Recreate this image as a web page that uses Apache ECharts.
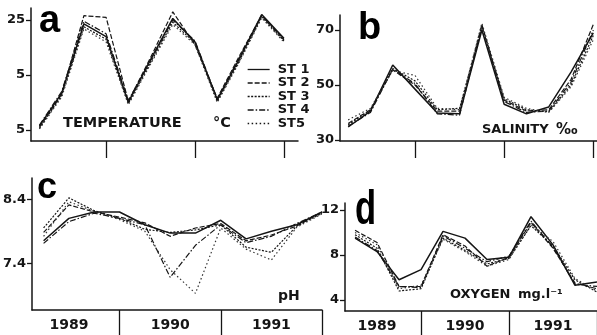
<!DOCTYPE html>
<html>
<head>
<meta charset="utf-8">
<script src="https://cdn.jsdelivr.net/npm/echarts@6/dist/echarts.min.js"></script>
<style>
  html, body { margin: 0; background: #fff; }
  #chart { width: 597px; height: 335px; }
</style>
</head>
<body>
<div id="chart"></div>
<script>
// sampling times, months since Jan 1989
const months = [3, 6, 9, 12, 15, 18, 21, 24, 27, 30, 33, 36];
const stations = ['ST 1', 'ST 2', 'ST 3', 'ST 4', 'ST5'];

// a - temperature (°C), one row per station
const temperature = [
  [5.7, 11.7, 24.3, 22.0, 10.0, 17.8, 25.3, 21.0, 10.5, 18.0, 26.0, 21.7],
  [5.5, 11.5, 25.8, 25.5, 10.2, 18.2, 26.5, 20.5, 10.8, 18.5, 25.9, 21.5],
  [5.3, 11.3, 23.8, 21.5, 9.8, 17.3, 24.6, 20.8, 10.2, 17.6, 25.6, 21.2],
  [5.9, 12.0, 24.8, 22.5, 10.4, 17.6, 25.0, 21.2, 10.6, 18.2, 25.8, 21.4],
  [5.2, 11.0, 23.4, 21.0, 9.6, 17.0, 24.2, 20.5, 10.0, 17.4, 25.4, 21.0]
];
// b - salinity (‰)
const salinity = [
  [34.7, 40.5, 57.3, 48.5, 39.8, 39.5, 70.0, 43.0, 39.5, 42.0, 54.7, 69.0],
  [36.0, 41.0, 55.5, 50.0, 40.5, 40.5, 72.0, 44.5, 40.5, 41.0, 52.0, 72.0],
  [35.5, 40.8, 56.0, 51.5, 41.0, 41.5, 71.0, 45.0, 41.0, 40.2, 50.0, 68.0],
  [35.0, 40.0, 55.8, 50.5, 39.5, 39.0, 71.5, 44.0, 40.0, 40.5, 51.0, 70.0],
  [37.3, 41.5, 55.3, 53.5, 41.5, 41.0, 72.5, 45.5, 41.5, 40.0, 49.3, 66.5]
];
// c - pH
const ph = [
  [7.75, 8.10, 8.20, 8.20, 8.00, 7.87, 7.87, 8.07, 7.78, 7.90, 8.00, 8.20],
  [7.88, 8.31, 8.20, 8.12, 8.03, 7.82, 7.95, 8.02, 7.75, 7.84, 7.98, 8.20],
  [7.95, 8.42, 8.22, 8.10, 7.93, 7.88, 7.92, 8.00, 7.65, 7.57, 7.98, 8.18],
  [7.71, 8.05, 8.18, 8.10, 8.00, 7.18, 7.68, 8.00, 7.72, 7.82, 8.02, 8.20],
  [7.82, 8.36, 8.21, 8.08, 7.90, 7.30, 6.93, 7.95, 7.62, 7.45, 7.96, 8.17]
];
// d - oxygen (mg/l)
const oxygen = [
  [9.5, 8.3, 5.8, 6.7, 10.1, 9.5, 7.6, 7.8, 11.4, 8.9, 5.3, 5.6],
  [10.2, 9.1, 5.2, 5.2, 9.8, 8.8, 7.0, 7.8, 10.9, 8.6, 5.5, 5.0],
  [9.8, 8.6, 4.8, 5.0, 9.5, 8.4, 7.2, 7.7, 10.6, 8.8, 5.8, 4.7],
  [9.6, 8.4, 5.2, 5.1, 9.7, 8.6, 7.4, 7.9, 11.0, 8.7, 5.4, 5.2],
  [10.0, 8.9, 5.0, 5.3, 9.4, 8.3, 7.0, 7.6, 10.7, 9.2, 5.9, 4.8]
];

// tick labels
const yearTicks = [12, 24, 36];
const yearLabelPos = [6, 18, 30];
const years = ['1989', '1990', '1991'];
const tempTicks = [5, 15, 25], tempLabels = ['5', '5', '25'];
const salTicks = [30, 50, 70], salLabels = ['30', '50', '70'];
const phTicks = [7.4, 8.4], phLabels = ['7.4', '8.4'];
const oxyTicks = [4, 8, 12], oxyLabels = ['4', '8', '12'];

const FONT = '"DejaVu Sans", sans-serif';
const INK = '#151515';

const dashes = ['solid', [5, 2], [2, 1.5], [6, 2, 1.5, 2], [1.5, 2.5]];

const panels = [
  { grid: { left: 31, top: 8, width: 267, height: 133 }, x: [1.86, 37.9], y: [3, 27.2],
    ticks: tempTicks, labels: tempLabels, data: temperature, tickLen: 17, years: false },
  { grid: { left: 340, top: 15, width: 257, height: 126 }, x: [1.9, 36.5], y: [29.6, 75.5],
    ticks: salTicks, labels: salLabels, data: salinity, tickLen: 17, years: false },
  { grid: { left: 27, top: 178, width: 295, height: 132 }, x: [1.63, 36], y: [6.67, 8.73],
    ticks: phTicks, labels: phLabels, data: ph, tickLen: 25, years: true },
  { grid: { left: 345, top: 203, width: 252, height: 108 }, x: [1.63, 36], y: [3.02, 12.62],
    ticks: oxyTicks, labels: oxyLabels, data: oxygen, tickLen: 24, years: true }
];

const axisLine = { lineStyle: { color: INK, width: 1.5 } };

const xAxis = panels.map((p, i) => ({
  type: 'value', gridIndex: i, min: p.x[0], max: p.x[1],
  axisLine: axisLine,
  splitLine: { show: false },
  axisTick: { customValues: yearTicks, length: p.tickLen, lineStyle: { color: INK, width: 1.3 } },
  axisLabel: {
    show: p.years,
    customValues: yearLabelPos,
    margin: 8,
    fontFamily: FONT, fontWeight: 'bold', fontSize: 14, color: INK,
    formatter: v => years[yearLabelPos.indexOf(v)]
  }
}));

const yAxis = panels.map((p, i) => ({
  type: 'value', gridIndex: i, min: p.y[0], max: p.y[1],
  axisLine: { show: true, lineStyle: { color: INK, width: 1.5 } },
  splitLine: { show: false },
  axisTick: { show: true, customValues: p.ticks, length: 5, lineStyle: { color: INK, width: 1.3 } },
  axisLabel: {
    customValues: p.ticks,
    margin: 6,
    fontFamily: FONT, fontWeight: 'bold', fontSize: 13, color: INK,
    formatter: v => p.labels[p.ticks.indexOf(v)]
  }
}));

const series = [];
panels.forEach((p, i) => {
  stations.forEach((name, s) => {
    series.push({
      name: name, type: 'line', xAxisIndex: i, yAxisIndex: i,
      data: months.map((m, k) => [m, p.data[s][k]]),
      symbol: 'none', silent: true,
      color: INK,
      itemStyle: { color: INK },
      lineStyle: { color: s === 4 ? '#333' : INK, width: s === 0 ? 1.5 : 1.2, type: dashes[s] }
    });
  });
});

function label(text, x, y, size, extra) {
  return Object.assign({
    type: 'text', x: x, y: y, silent: true,
    style: { text: text, font: 'bold ' + size + 'px ' + FONT, fill: INK, align: 'left', verticalAlign: 'middle' }
  }, extra || {});
}
function letter(text, x, y, size, extra) {
  return Object.assign({
    type: 'text', x: x, y: y, silent: true,
    style: { text: text, font: 'bold ' + size + 'px "Liberation Sans", sans-serif', fill: '#000', align: 'left', verticalAlign: 'middle' }
  }, extra || {});
}

const chart = echarts.init(document.getElementById('chart'));
chart.setOption({
  backgroundColor: '#fff',
  animation: false,
  grid: panels.map(p => Object.assign({ containLabel: false }, p.grid)),
  xAxis: xAxis,
  yAxis: yAxis,
  legend: {
    data: stations, orient: 'vertical', left: 242, top: 58,
    itemWidth: 22, itemHeight: 10, itemGap: 0.5,
    selectedMode: false,
    itemStyle: { opacity: 0 },
    lineStyle: { color: INK, width: 1.3, opacity: 1 },
    textStyle: { fontFamily: FONT, fontWeight: 'bold', fontSize: 13, lineHeight: 13, color: INK, padding: [0, 0, 0, 3] }
  },
  graphic: [
    letter('a', 39, 22, 38),
    letter('b', 358, 29, 38),
    letter('c', 37, 188, 36),
    letter('d', 355, 211, 48, { scaleX: 0.72 }),
    label('TEMPERATURE', 63, 123, 14.5),
    label('°C', 213, 123, 14.5),
    label('SALINITY', 482, 130, 13),
    label('‰', 556, 130, 15),
    label('pH', 278, 296, 14),
    label('OXYGEN', 450, 295, 13),
    label('mg.l⁻¹', 518, 295, 13)
  ],
  series: series
});
</script>
</body>
</html>
